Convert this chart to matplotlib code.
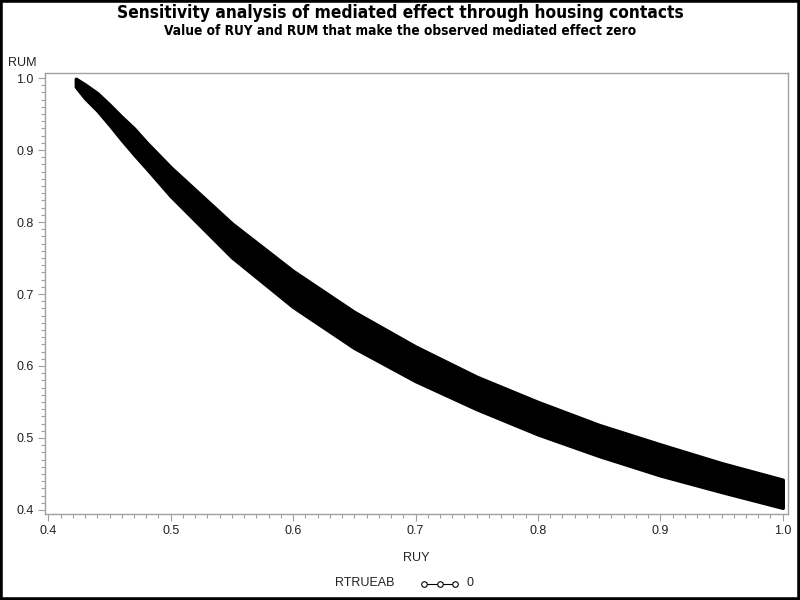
import matplotlib
matplotlib.use("Agg")
import matplotlib.pyplot as plt
from matplotlib.lines import Line2D
from matplotlib.patches import Rectangle
from matplotlib.ticker import MultipleLocator
from matplotlib import font_manager
from matplotlib.font_manager import FontProperties

# ---- data (band of RUY/RUM pairs) ----
ruy = [0.4225, 0.43, 0.44, 0.45, 0.46, 0.47, 0.48, 0.50, 0.55, 0.60, 0.65, 0.70, 0.75, 0.80, 0.85, 0.90, 0.95, 1.00]
rum_upper = [0.999, 0.991, 0.979, 0.963, 0.946, 0.930, 0.911, 0.876, 0.798, 0.732, 0.675, 0.627, 0.585, 0.550, 0.518, 0.491, 0.465, 0.442]
rum_lower = [0.988, 0.972, 0.955, 0.935, 0.914, 0.894, 0.875, 0.836, 0.751, 0.682, 0.625, 0.579, 0.540, 0.505, 0.475, 0.448, 0.425, 0.403]
x_ticks = [0.4, 0.5, 0.6, 0.7, 0.8, 0.9, 1.0]
y_ticks = [0.4, 0.5, 0.6, 0.7, 0.8, 0.9, 1.0]
legend_title = "RTRUEAB"
legend_label = "0"

# look for a condensed bold face for the titles
cond_path = None
for f in font_manager.fontManager.ttflist:
    fn = f.fname.lower()
    if ("narrow" in fn or "condensed" in fn) and ("bold" in fn) and ("oblique" not in fn) and ("italic" not in fn):
        cond_path = f.fname
        if "liberation" in fn or "dejavusans" in fn:
            break
if cond_path:
    title_fp = FontProperties(fname=cond_path, size=12.4)
    sub_fp = FontProperties(fname=cond_path, size=9.8)
else:
    title_fp = FontProperties(family="Liberation Sans", weight="bold", size=13)
    sub_fp = FontProperties(family="Liberation Sans", weight="bold", size=9.5)

plt.rcParams["font.family"] = ["Liberation Sans", "DejaVu Sans"]

fig = plt.figure(figsize=(8, 6), dpi=100)
W, H = 800, 600
ax = fig.add_axes([45 / W, 1 - 514 / H, (788 - 45) / W, (514 - 73) / H])

ax.fill_between(ruy, rum_lower, rum_upper, color="black", edgecolor="black", linewidth=2.5)

ax.set_xlim(0.3973, 1.0043)
ax.set_ylim(0.3944, 1.007)
ax.set_xticks(x_ticks)
ax.set_yticks(y_ticks)
ax.set_xticklabels([f"{v:.1f}" for v in x_ticks])
ax.set_yticklabels([f"{v:.1f}" for v in y_ticks])
ax.xaxis.set_minor_locator(MultipleLocator(0.01))
ax.yaxis.set_minor_locator(MultipleLocator(0.01))
grey = "#a0a0a0"
for s in ax.spines.values():
    s.set_color(grey)
    s.set_linewidth(1.0)
ax.tick_params(which="major", length=5, width=0.8, color=grey, labelsize=9, labelcolor="#222222", pad=3)
ax.tick_params(which="minor", length=3, width=0.8, color=grey)

fig.text(416 / W, 1 - 558 / H, "RUY", ha="center", va="center", fontsize=9, color="#222222")
fig.text(8 / W, 1 - 63 / H, "RUM", ha="left", va="center", fontsize=9, color="#222222")

fig.text(0.5, 1 - 13 / H, "Sensitivity analysis of mediated effect through housing contacts",
         ha="center", va="center", fontproperties=title_fp)
fig.text(0.5, 1 - 31 / H, "Value of RUY and RUM that make the observed mediated effect zero",
         ha="center", va="center", fontproperties=sub_fp)

# legend
fig.text(365 / W, 1 - 583 / H, legend_title, ha="center", va="center", fontsize=9, color="#222222")
fig.add_artist(Line2D([422 / W, 457 / W], [1 - 584 / H, 1 - 584 / H], transform=fig.transFigure,
                      color="black", linewidth=0.8))
fig.add_artist(Line2D([424 / W, 440 / W, 455 / W], [1 - 584 / H] * 3, transform=fig.transFigure,
                      linestyle="none", marker="o", markersize=4, markerfacecolor="white",
                      markeredgecolor="black", markeredgewidth=0.8))
fig.text(470 / W, 1 - 583 / H, legend_label, ha="center", va="center", fontsize=9, color="#222222")

fig.add_artist(Rectangle((0, 0), 1, 1, transform=fig.transFigure, fill=False,
                         edgecolor="black", linewidth=4))

fig.savefig("out.png", dpi=100)
